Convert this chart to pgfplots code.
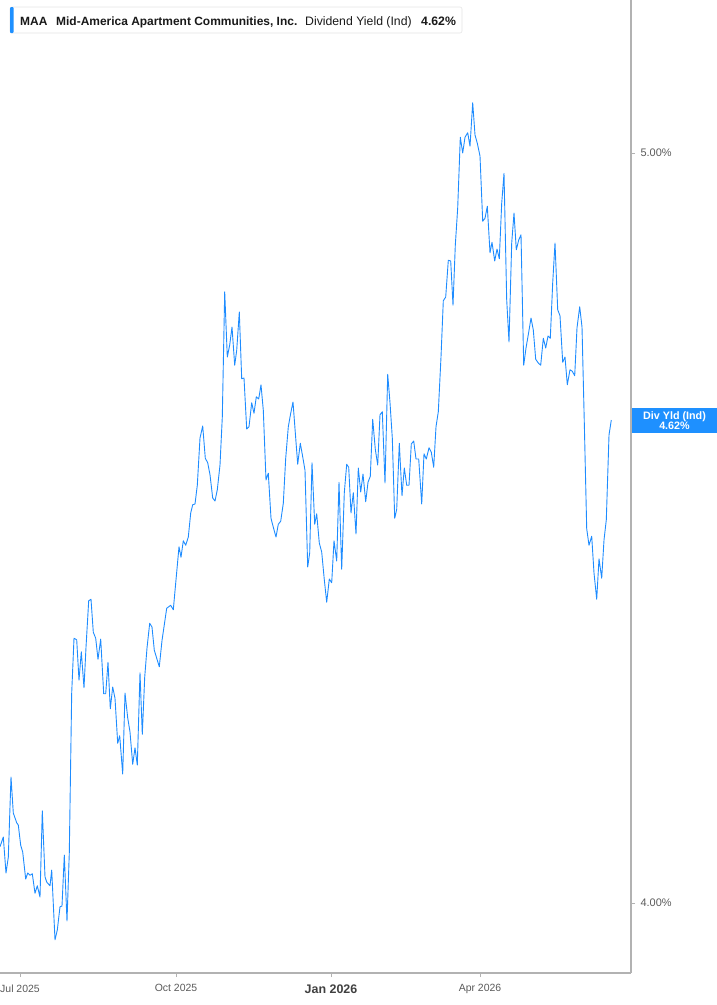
\documentclass[border=0pt]{standalone}
\usepackage{pgfplots}
\pgfplotsset{compat=1.18}
\usepackage{fontspec}
\setmainfont{Liberation Sans}
\definecolor{lineblue}{RGB}{30,140,255}
\definecolor{boxblue}{RGB}{30,144,255}
\definecolor{axgray}{RGB}{178,178,178}
\definecolor{ticktext}{RGB}{90,90,90}
\definecolor{darktext}{RGB}{25,25,25}
\begin{document}
\begin{tikzpicture}
\begin{axis}[
  at={(0,0)}, anchor=north west,
  scale only axis, width=631bp, height=973bp,
  xmin=0, xmax=631, ymin=3.9067, ymax=5.204,
  axis x line*=bottom, axis y line*=right,
  axis line style={-, axgray, line width=1.4bp},
  tick style={axgray, line width=1bp},
  tick align=outside, major tick length=4bp,
  xtick={20,176,331,480},
  xticklabels={Jul 2025, Oct 2025, {\fontsize{12.5}{14}\selectfont\bfseries\color{darkgray}Jan 2026}, Apr 2026},
  xticklabel style={font=\fontsize{10.5}{12}\selectfont, text=ticktext, yshift=-4bp},
  ytick={4,5},
  yticklabels={4.00\%, 5.00\%},
  yticklabel style={font=\fontsize{11}{12}\selectfont, text=ticktext, anchor=west, xshift=2bp},
  clip=false,
]
\addplot[lineblue, line width=0.9bp, line join=round] coordinates {
(0,4.075) (3.3,4.088) (6,4.040) (8.3,4.061) (11,4.168) (13.3,4.120) (16.7,4.107) (18.3,4.104)
(20.7,4.077) (22.7,4.068) (25.7,4.032) (27.7,4.040) (30,4.037) (32.3,4.039) (35,4.013) (37.3,4.023)
(40,4.008) (42.3,4.123) (45,4.035) (46.7,4.028) (50,4.023) (51.7,4.044) (55,3.951) (57.3,3.964)
(60,3.995) (62,3.996) (64.3,4.064) (67,3.976) (69.3,4.067) (71.7,4.280) (74,4.353) (76.7,4.351)
(79,4.297) (81.3,4.335) (84,4.287) (86,4.341) (88.7,4.403) (91,4.405) (93.3,4.361) (95.7,4.353)
(98,4.325) (100.7,4.352) (103.7,4.279) (105.7,4.279) (108,4.321) (110.3,4.259) (112.7,4.288) (115,4.273)
(117.7,4.213) (119.7,4.223) (122.7,4.172) (125,4.280) (127.7,4.247) (130,4.228) (132.7,4.185) (135,4.207)
(137.3,4.184) (140,4.307) (142.3,4.225) (144.7,4.301) (147,4.340) (149.7,4.373) (152,4.368) (154.3,4.337)
(159.3,4.315) (162,4.350) (166.7,4.393) (170.7,4.397) (173.3,4.391) (176,4.431) (179,4.475) (181,4.461)
(183.3,4.483) (185.7,4.477) (188.3,4.488) (190.7,4.520) (192.7,4.531) (195,4.532) (197.3,4.557) (200,4.620)
(202.7,4.636) (205.3,4.593) (207.7,4.587) (210,4.571) (212.7,4.540) (215,4.536) (217.3,4.551) (220,4.584)
(222.3,4.648) (224.7,4.815) (227.3,4.728) (229.7,4.744) (232,4.768) (234.7,4.717) (236.7,4.737) (239.3,4.788)
(241.7,4.699) (244,4.700) (246.7,4.632) (249,4.635) (251.7,4.667) (254,4.653) (256.3,4.675) (258.7,4.672)
(261,4.691) (263.3,4.657) (266,4.564) (268.3,4.573) (271,4.513) (273.3,4.501) (276,4.488) (278.3,4.505)
(280.7,4.509) (283.3,4.533) (285.7,4.593) (288.3,4.635) (290.7,4.653) (293,4.668) (295.3,4.627) (297.7,4.585)
(300.3,4.613) (302.7,4.595) (305,4.577) (307.7,4.448) (309.7,4.467) (312,4.587) (314.7,4.505) (316.7,4.519)
(319.3,4.480) (321.7,4.468) (324.3,4.431) (326.7,4.401) (329.3,4.432) (331.7,4.427) (334,4.483) (336.7,4.456)
(339,4.561) (341.7,4.445) (344.3,4.547) (346.7,4.585) (348.7,4.581) (351,4.520) (353.3,4.547) (356,4.492)
(358.3,4.580) (360.7,4.548) (363,4.572) (365.7,4.535) (368,4.561) (370.3,4.569) (372.7,4.645) (375.3,4.605)
(377.7,4.584) (380,4.651) (382.3,4.655) (385,4.560) (387.7,4.705) (390,4.667) (392.3,4.620) (394.7,4.513)
(396.7,4.525) (399.3,4.613) (402,4.543) (404.3,4.580) (406.7,4.557) (409,4.557) (411.3,4.612) (413.7,4.616)
(416,4.592) (418.7,4.592) (421.7,4.532) (424,4.599) (426.3,4.592) (429,4.607) (431.3,4.601) (433.7,4.581)
(436,4.635) (438.3,4.655) (441,4.728) (443.3,4.803) (445.7,4.808) (448.3,4.857) (450.7,4.856) (453,4.797)
(455.3,4.877) (457.7,4.927) (460.3,5.021) (462.7,5.000) (465,5.021) (467.7,5.027) (470,5.009) (472.7,5.067)
(475,5.024) (477.3,5.013) (480,4.996) (482.7,4.909) (485,4.913) (487.3,4.929) (490,4.867) (492,4.881)
(494.7,4.856) (497,4.872) (499.3,4.859) (501.7,4.933) (504,4.973) (506.7,4.804) (509,4.748) (511.7,4.880)
(514,4.920) (516.3,4.871) (518.7,4.884) (521,4.891) (523.7,4.717) (526,4.740) (528.7,4.761) (531,4.780)
(533.3,4.764) (535.7,4.725) (538.3,4.720) (540.7,4.717) (543.3,4.753) (545.7,4.740) (548,4.756) (550.3,4.753)
(552.7,4.827) (555,4.880) (557.7,4.791) (560,4.783) (562.7,4.721) (565,4.728) (567.3,4.691) (570,4.711)
(572.3,4.709) (574.7,4.703) (577,4.767) (579.7,4.795) (582,4.768) (584.3,4.640) (586.7,4.499) (589,4.477)
(591.7,4.489) (594,4.440) (596.7,4.405) (599,4.459) (601.7,4.433) (604,4.484) (606.3,4.511) (609,4.624)
(611.3,4.644)
};
\end{axis}
% legend box
\draw[fill=white, draw=black!10, line width=0.6bp, rounded corners=2bp] (10bp,-7bp) rectangle (462bp,-33bp);
\fill[boxblue, rounded corners=1bp] (10bp,-7bp) rectangle (13.5bp,-33bp);
\node[anchor=base west, inner sep=0pt, text=darktext, font=\fontsize{12}{14}\selectfont\bfseries] at (20bp,-25bp) {MAA};
\node[anchor=base west, inner sep=0pt, text=darktext, font=\fontsize{12}{14}\selectfont\bfseries] at (56bp,-25bp) {Mid-America Apartment Communities, Inc.};
\node[anchor=base west, inner sep=0pt, text=darktext, font=\fontsize{12.3}{14}\selectfont] at (305bp,-25bp) {Dividend Yield (Ind)};
\node[anchor=base west, inner sep=0pt, text=darktext, font=\fontsize{12.3}{14}\selectfont\bfseries] at (421bp,-25bp) {4.62\%};
% right value label
\fill[boxblue] (632bp,-408bp) rectangle (717bp,-433bp);
\node[inner sep=0pt, text=white, font=\fontsize{10.8}{11}\selectfont\bfseries, align=center] at (674.5bp,-420.5bp) {Div Yld (Ind)\\[-1.5bp]4.62\%};
\pgfresetboundingbox
\useasboundingbox (0,0) rectangle (717bp,-1005bp);
\end{tikzpicture}
\end{document}
